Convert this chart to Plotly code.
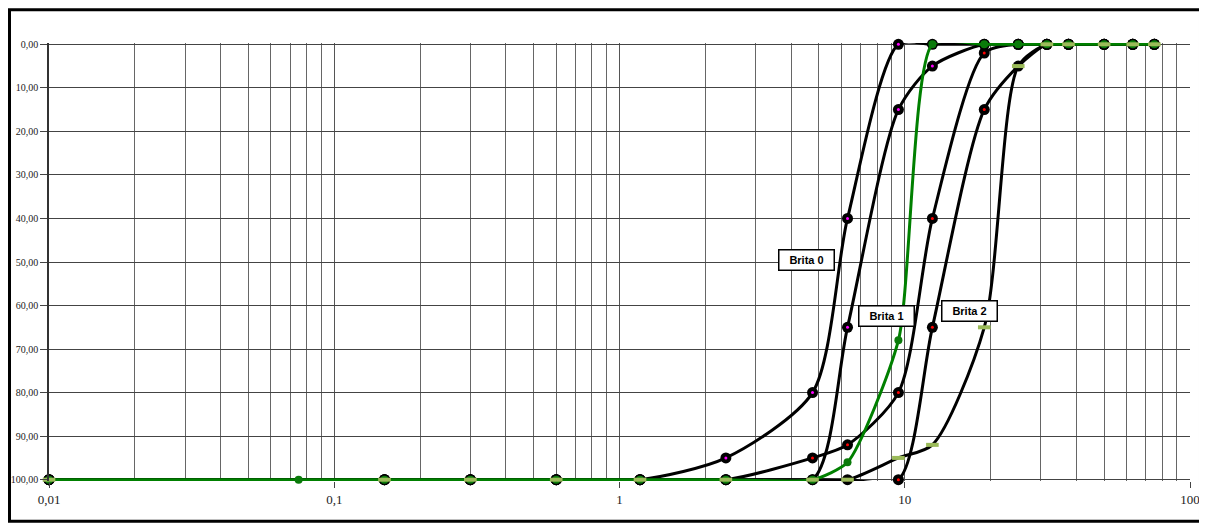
import math
import plotly.graph_objects as go

# ---------------- data ----------------
sieves = [0.01, 0.15, 0.3, 0.6, 1.18, 2.36, 4.75, 6.3, 9.5, 12.5, 19, 25, 31.5, 37.5, 50, 63, 75]
brita0_a = [100, 100, 100, 100, 100, 95, 80, 40, 0, 0, 0, 0, 0, 0, 0, 0, 0]
brita0_b = [100, 100, 100, 100, 100, 100, 100, 65, 15, 5, 0, 0, 0, 0, 0, 0, 0]
brita1_a = [100, 100, 100, 100, 100, 100, 95, 92, 80, 40, 2, 0, 0, 0, 0, 0, 0]
brita1_b = [100, 100, 100, 100, 100, 100, 100, 100, 100, 65, 15, 5, 0, 0, 0, 0, 0]
brita2 = [100, 100, 100, 100, 100, 100, 100, 100, 95, 92, 65, 5, 0, 0, 0, 0, 0]

sample_sieves = [0.01, 0.075, 0.15, 0.3, 0.6, 1.18, 2.36, 4.75, 6.3, 9.5, 12.5, 19, 25, 31.5, 37.5, 50, 63, 75]
sample = [100, 100, 100, 100, 100, 100, 100, 100, 96, 68, 0, 0, 0, 0, 0, 0, 0, 0]

x_ticks = [0.01, 0.1, 1, 10, 100]
x_ticktext = ["0,01", "0,1", "1", "10", "100"]
y_ticks = [0, 10, 20, 30, 40, 50, 60, 70, 80, 90, 100]
y_ticktext = ["0,00", "10,00", "20,00", "30,00", "40,00", "50,00", "60,00", "70,00", "80,00", "90,00", "100,00"]

labels = ["Brita 0", "Brita 1", "Brita 2"]
label_x = [4.54, 8.6, 16.9]
label_y = [49.5, 62.4, 61.2]

# -------------- figure ---------------
fig = go.Figure()

SMOOTH = 0.75
limit_curves = [brita0_a, brita0_b, brita1_a, brita1_b, brita2]
for yv in limit_curves:
    fig.add_trace(go.Scatter(x=sieves, y=yv, mode="lines",
                             line=dict(color="black", width=3, shape="spline", smoothing=SMOOTH),
                             hoverinfo="skip", showlegend=False))

# black markers with coloured centres (Brita 0 / Brita 1)
for yv, c in [(brita0_a, "#FF00FF"), (brita0_b, "#FF00FF"), (brita1_a, "#FF0000"), (brita1_b, "#FF0000")]:
    fig.add_trace(go.Scatter(x=sieves, y=yv, mode="markers", cliponaxis=False,
                             marker=dict(symbol="circle", size=11, color="black"),
                             showlegend=False))
    fig.add_trace(go.Scatter(x=sieves, y=yv, mode="markers", cliponaxis=False,
                             marker=dict(symbol="circle", size=3, color=c),
                             showlegend=False))

# sample curve (green)
fig.add_trace(go.Scatter(x=sample_sieves, y=sample, mode="lines+markers", cliponaxis=False,
                         line=dict(color="#008000", width=3, shape="spline", smoothing=0.6),
                         marker=dict(symbol="circle", size=8, color="#0A7A0A"),
                         showlegend=False))

# Brita 2 markers (light green bars)
fig.add_trace(go.Scatter(x=sieves, y=brita2, mode="markers", cliponaxis=False,
                         marker=dict(symbol="line-ew", size=9,
                                     line=dict(color="#9BBB59", width=4)),
                         showlegend=False))

for t, lx, ly in zip(labels, label_x, label_y):
    fig.add_annotation(x=math.log10(lx), y=ly, xref="x", yref="y", text="<b>" + t + "</b>",
                       showarrow=False, bgcolor="white", bordercolor="black", borderwidth=1.5,
                       width=52, height=17,
                       font=dict(family="Liberation Sans Narrow, Arial Narrow, Liberation Sans", size=11, color="black"))

minor_vals = [m * 10 ** e for e in range(-2, 2) for m in range(2, 10)]

fig.update_xaxes(type="log", range=[-2, 2], automargin=False,
                 tickvals=x_ticks, ticktext=x_ticktext,
                 ticks="outside", ticklen=6, tickcolor="#444",
                 showgrid=True, gridcolor="#555", gridwidth=1,
                 minor=dict(tickvals=minor_vals, showgrid=True, gridcolor="#666", gridwidth=1, ticks=""),
                 tickfont=dict(family="Liberation Serif", size=13, color="#222"),
                 zeroline=False, showline=False)
fig.update_yaxes(range=[100.3, -0.3], tickvals=y_ticks, ticktext=y_ticktext, automargin=False,
                 ticks="outside", ticklen=7, tickcolor="#444",
                 showgrid=True, gridcolor="#444", gridwidth=1.3,
                 tickfont=dict(family="Liberation Serif", size=10, color="#222"),
                 zeroline=False, showline=True, linecolor="#333", linewidth=1.5)

# outer frame (figure edge)
fig.add_shape(type="rect", xref="paper", yref="paper",
              x0=-0.03462, x1=1.0092, y0=-0.0917, y1=1.0757,
              line=dict(color="black", width=3), fillcolor="rgba(0,0,0,0)", layer="above")

fig.update_layout(width=1194, height=515, autosize=False,
                  margin=dict(l=41, r=12, t=34.7, b=41.7),
                  paper_bgcolor="white", plot_bgcolor="white",
                  showlegend=False)

fig.write_html("out.html")
